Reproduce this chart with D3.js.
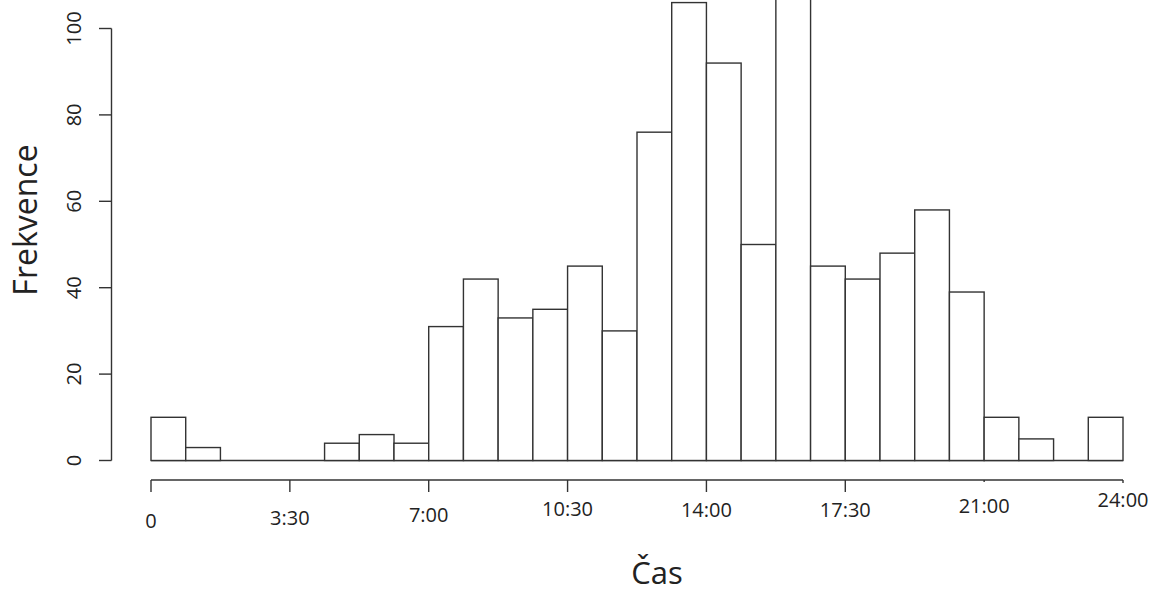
<!DOCTYPE html>
<html><head><meta charset="utf-8">
<script src="https://cdn.jsdelivr.net/npm/d3@7"></script>
<style>body{margin:0;background:#fff}svg{display:block}text{font-family:"Open Sans",sans-serif;fill:#222}</style>
</head><body><svg id="c" width="1159" height="592"></svg>
<script>
// Data
const binIndex = d3.range(28);
const counts = [10,3,0,0,0,4,6,4,31,42,33,35,45,30,76,106,92,50,118,45,42,48,58,39,10,5,0,10];
const xTickBins = [0,4,8,12,16,20,24,28];
const xTickLabels = ["0","3:30","7:00","10:30","14:00","17:30","21:00","24:00"];
const yTicks = [0,20,40,60,80,100];

// Layout (not data)
const labelBaseline = [528,525,522,516,517,517,513,507];
const tickLen = [12,12,12,12,12,12,2,3];

const svg = d3.select("#c");
const x = d3.scaleLinear().domain([0,28]).range([151,1123]);
const y = d3.scaleLinear().domain([0,100]).range([460.5,28.5]);
const stroke = "#333";

// baseline under all bins (zero-height bins show as a line)
svg.append("line").attr("x1",x(0)).attr("x2",x(28)).attr("y1",y(0)).attr("y2",y(0))
  .attr("stroke",stroke).attr("stroke-width",1.4);

// bars
svg.append("g").selectAll("rect").data(binIndex.filter(i=>counts[i]>0)).join("rect")
  .attr("x", i => x(i)).attr("width", i => x(i+1)-x(i))
  .attr("y", i => y(counts[i])).attr("height", i => y(0)-y(counts[i]))
  .attr("fill","#fff").attr("stroke",stroke).attr("stroke-width",1.4);

// x axis
const xa = svg.append("g");
xa.append("line").attr("x1",x(0)).attr("x2",x(28)).attr("y1",480).attr("y2",480)
  .attr("stroke",stroke).attr("stroke-width",1.4);
xa.selectAll("line.t").data(xTickBins).join("line").attr("class","t")
  .attr("x1",d=>x(d)).attr("x2",d=>x(d)).attr("y1",480).attr("y2",(d,i)=>480+tickLen[i])
  .attr("stroke",stroke).attr("stroke-width",1.4);
xa.selectAll("text").data(xTickLabels).join("text")
  .attr("x",(d,i)=>x(xTickBins[i])).attr("y",(d,i)=>labelBaseline[i])
  .attr("text-anchor","middle").attr("font-size",20).text(d=>d);

// y axis
const ya = svg.append("g");
ya.append("line").attr("x1",111.5).attr("x2",111.5).attr("y1",y(0)).attr("y2",y(100))
  .attr("stroke",stroke).attr("stroke-width",1.4);
ya.selectAll("line.t").data(yTicks).join("line").attr("class","t")
  .attr("x1",99).attr("x2",111.5).attr("y1",d=>y(d)).attr("y2",d=>y(d))
  .attr("stroke",stroke).attr("stroke-width",1.4);
ya.selectAll("text").data(yTicks).join("text")
  .attr("transform",d=>`translate(81,${y(d)}) rotate(-90)`)
  .attr("text-anchor","middle").attr("font-size",20).text(d=>d);

// titles
svg.append("text").attr("x",657).attr("y",584).attr("text-anchor","middle")
  .attr("font-size",31).text("Čas");
svg.append("text").attr("transform","translate(37,220) rotate(-90)").attr("text-anchor","middle")
  .attr("font-size",32).text("Frekvence");
</script></body></html>
